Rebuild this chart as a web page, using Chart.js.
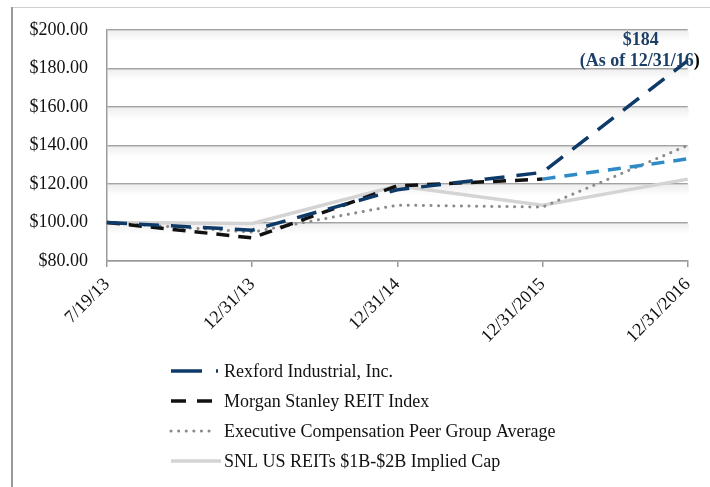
<!DOCTYPE html>
<html lang="en">
<head>
    <meta charset="UTF-8">
    <title>Total Return Performance</title>
    <script src="https://cdn.jsdelivr.net/npm/chart.js"></script>
    <style>
        html, body { margin: 0; padding: 0; background: #ffffff; }
        #grafico { display: block; }
    </style>
</head>
<body>
    <canvas id="grafico" width="710" height="487"></canvas>
<script>
    // valores
    const categorias = ['7/19/13', '12/31/13', '12/31/14', '12/31/2015', '12/31/2016'];
    const rexford = [100, 96, 117, 126, 184];
    const morganStanley = [100, 92, 119, 122.5, 133];
    const peerGroup = [100, 95, 109, 108, 140];
    const snlReits = [100, 99.5, 119, 109, 122.5];
    const nomesSeries = [
        'Rexford Industrial, Inc.',
        'Morgan Stanley REIT Index',
        'Executive Compensation Peer Group Average',
        'SNL US REITs $1B-$2B Implied Cap'
    ];
    const eixoY = { min: 80, max: 200, passo: 20 };
    const anotacao = ['$184', '(As of 12/31/16)'];

    const fonte = '"Liberation Serif", "Times New Roman", serif';

    // moldura, sombras das linhas de grade
    const fundoPlugin = {
        id: 'fundo',
        beforeDraw(chart) {
            const ctx = chart.ctx;
            ctx.save();
            ctx.strokeStyle = '#cfcfcf';
            ctx.lineWidth = 1;
            ctx.beginPath();
            ctx.moveTo(12, 7.5);
            ctx.lineTo(710, 7.5);
            ctx.stroke();
            ctx.strokeStyle = '#9a9a9a';
            ctx.lineWidth = 2;
            ctx.beginPath();
            ctx.moveTo(12, 7);
            ctx.lineTo(12, 487);
            ctx.stroke();

            const area = chart.chartArea;
            const y = chart.scales.y;
            y.ticks.forEach(t => {
                if (t.value <= eixoY.min) return;
                const py = y.getPixelForValue(t.value);
                const g = ctx.createLinearGradient(0, py, 0, py + 12);
                g.addColorStop(0, 'rgba(0,0,0,0.07)');
                g.addColorStop(1, 'rgba(0,0,0,0)');
                ctx.fillStyle = g;
                ctx.fillRect(area.left + 1, py + 1, area.right - area.left, 12);
            });
            ctx.restore();
        }
    };

    // rotulo do ultimo ponto + legenda
    const extrasPlugin = {
        id: 'extras',
        afterDraw(chart) {
            const ctx = chart.ctx;
            const x = chart.scales.x;
            const y = chart.scales.y;
            const ultimo = rexford.length - 1;
            const px = x.getPixelForValue(ultimo);
            const py = y.getPixelForValue(rexford[ultimo]);

            ctx.save();
            ctx.font = 'bold 18px ' + fonte;
            ctx.textAlign = 'center';
            ctx.textBaseline = 'middle';
            ctx.fillStyle = '#1b3f66';
            ctx.fillText(anotacao[0], px - 47, py - 20);
            const semFecha = anotacao[1].slice(0, -1);
            const largura = ctx.measureText(anotacao[1]).width;
            const inicio = px - 48 - largura / 2;
            ctx.textAlign = 'left';
            ctx.fillText(semFecha, inicio, py + 1);
            ctx.fillStyle = '#000000';
            ctx.fillText(')', inicio + ctx.measureText(semFecha).width, py + 1);

            // legenda
            const estilos = [
                { cor: '#0d3a68', largura: 3.5, dash: [31, 14, 2, 60], cap: 'butt' },
                { cor: '#111111', largura: 3.5, dash: [15, 11], cap: 'butt' },
                { cor: '#8a8a8a', largura: 3, dash: [0.1, 7.5], cap: 'round' },
                { cor: '#d4d4d4', largura: 3.5, dash: [], cap: 'butt' }
            ];
            const x0 = 171, x1 = 221, xt = 224;
            const linhas = [371, 401, 431, 461];
            ctx.font = '18px ' + fonte;
            ctx.textAlign = 'left';
            ctx.textBaseline = 'middle';
            nomesSeries.forEach((nome, i) => {
                const e = estilos[i];
                ctx.strokeStyle = e.cor;
                ctx.lineWidth = e.largura;
                ctx.lineCap = e.cap;
                ctx.setLineDash(e.dash);
                ctx.beginPath();
                ctx.moveTo(x0, linhas[i]);
                ctx.lineTo(i === 2 ? 215 : x1, linhas[i]);
                ctx.stroke();
                ctx.setLineDash([]);
                ctx.fillStyle = '#111111';
                ctx.fillText(nome, xt, linhas[i] + 1);
            });
            ctx.restore();
        }
    };

    const ctx = document.getElementById('grafico').getContext('2d');
    window.grafico = new Chart(ctx, {
        type: 'line',
        data: {
            labels: categorias,
            datasets: [
                {
                    label: nomesSeries[3],
                    data: snlReits,
                    borderColor: '#d4d4d4',
                    borderWidth: 3.5,
                    pointRadius: 0,
                    tension: 0,
                    order: 4
                },
                {
                    label: nomesSeries[2],
                    data: peerGroup,
                    borderColor: '#8a8a8a',
                    borderWidth: 3,
                    borderDash: [0.1, 7.5],
                    borderCapStyle: 'round',
                    pointRadius: 0,
                    tension: 0,
                    order: 3
                },
                {
                    label: nomesSeries[1],
                    data: morganStanley,
                    borderColor: '#111111',
                    borderWidth: 3.5,
                    borderDash: [13, 9],
                    pointRadius: 0,
                    tension: 0,
                    order: 2,
                    segment: {
                        borderColor: c => c.p1DataIndex === categorias.length - 1 ? '#2f8bc6' : undefined
                    }
                },
                {
                    label: nomesSeries[0],
                    data: rexford,
                    borderColor: '#0d3a68',
                    borderWidth: 3.5,
                    borderDash: [20, 12],
                    pointRadius: 0,
                    tension: 0,
                    order: 1
                }
            ]
        },
        options: {
            responsive: false,
            animation: false,
            layout: { padding: { left: 0, top: 27, right: 22, bottom: 0 } },
            plugins: {
                legend: { display: false },
                tooltip: { enabled: false }
            },
            scales: {
                x: {
                    offset: false,
                    afterFit: s => { s.height = 226; },
                    grid: {
                        drawOnChartArea: false,
                        drawTicks: true,
                        tickLength: 6,
                        color: '#9a9a9a',
                        lineWidth: 1.5
                    },
                    border: { color: '#9a9a9a', width: 1.5 },
                    ticks: {
                        minRotation: 45,
                        maxRotation: 45,
                        autoSkip: false,
                        padding: 7,
                        color: '#111111',
                        font: { family: fonte, size: 18 }
                    }
                },
                y: {
                    min: eixoY.min,
                    max: eixoY.max,
                    afterFit: s => { s.width = 107; },
                    grid: {
                        drawTicks: false,
                        color: '#a3a3a3',
                        lineWidth: 1.5
                    },
                    border: { color: '#9a9a9a', width: 1.5 },
                    ticks: {
                        stepSize: eixoY.passo,
                        padding: 19,
                        color: '#111111',
                        font: { family: fonte, size: 18 },
                        callback: v => '$' + v.toFixed(2)
                    }
                }
            }
        },
        plugins: [fundoPlugin, extrasPlugin]
    });
</script>
</body>
</html>
